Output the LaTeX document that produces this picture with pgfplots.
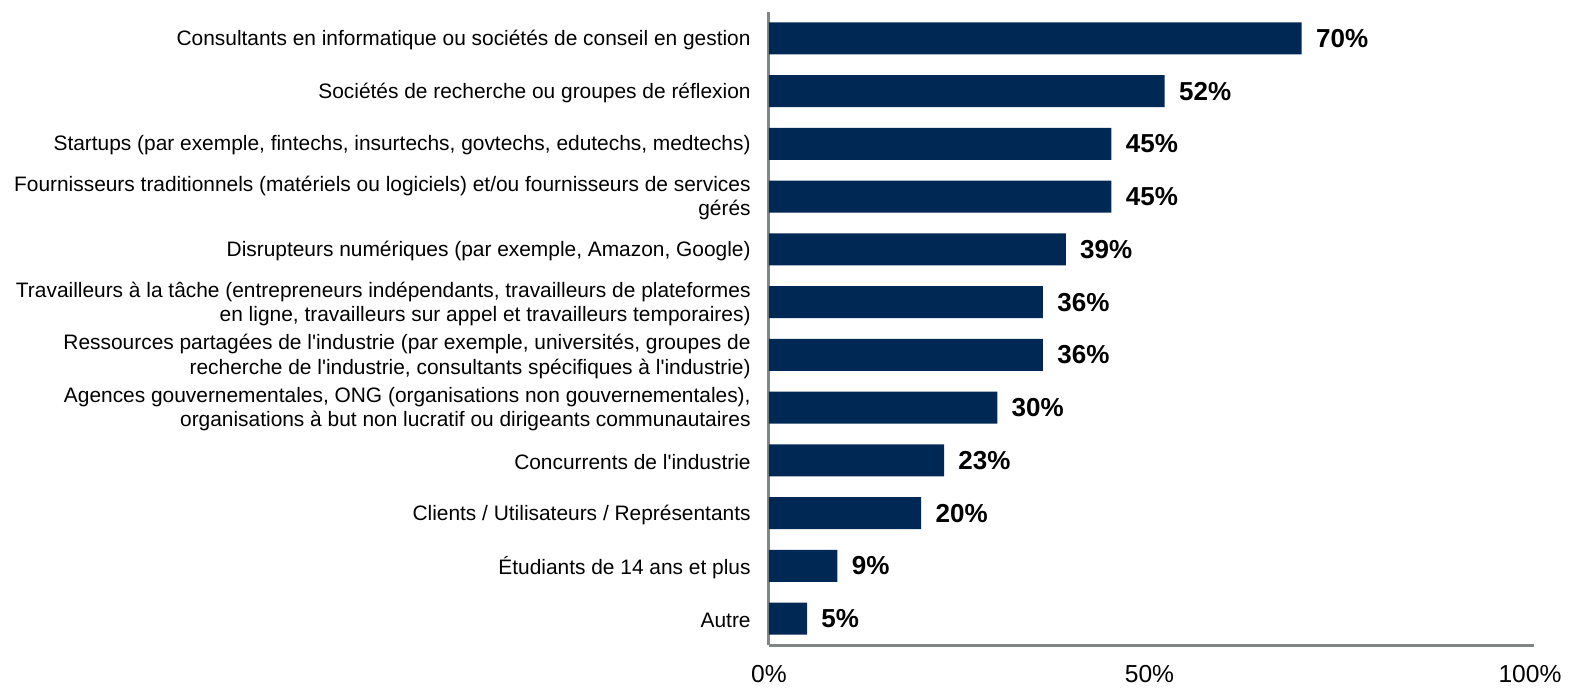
\documentclass[border=0pt]{standalone}
\usepackage{pgfplots}
\pgfplotsset{compat=1.18}
\usepackage{fontspec}
\setmainfont{Liberation Sans}
\definecolor{barnavy}{RGB}{0,40,85}
\definecolor{axisgrey}{RGB}{127,134,132}
\begin{document}
\begin{tikzpicture}
\begin{axis}[
  scale only axis,
  width=380.5pt, height=316.5pt,
  xbar, bar width=16pt,
  xmin=0, xmax=100,
  ymin=-0.5, ymax=11.5,
  y dir=reverse,
  axis lines*=left,
  axis line style={draw=axisgrey, line width=1.5pt},
  x axis line style={shorten >=-2pt},
  major tick length=0pt,
  xtick={0,50,100},
  xticklabels={0\%,50\%,100\%},
  xticklabel style={font=\fontsize{12.3}{14}\selectfont, inner sep=0pt, yshift=-10pt},
  ytick={0,...,11},
  yticklabels={
    {Consultants en informatique ou sociétés de conseil en gestion},
    {Sociétés de recherche ou groupes de réflexion},
    {Startups (par exemple, fintechs, insurtechs, govtechs, edutechs, medtechs)},
    {Fournisseurs traditionnels (matériels ou logiciels) et/ou fournisseurs de services\\gérés},
    {Disrupteurs numériques (par exemple, Amazon, Google)},
    {Travailleurs à la tâche (entrepreneurs indépendants, travailleurs de plateformes\\en ligne, travailleurs sur appel et travailleurs temporaires)},
    {Ressources partagées de l\textquotesingle industrie (par exemple, universités, groupes de\\recherche de l\textquotesingle industrie, consultants spécifiques à l\textquotesingle industrie)},
    {Agences gouvernementales, ONG (organisations non gouvernementales),\\organisations à but non lucratif ou dirigeants communautaires},
    {Concurrents de l\textquotesingle industrie},
    {Clients / Utilisateurs / Représentants},
    {Étudiants de 14 ans et plus},
    {Autre}
  },
  yticklabel style={font=\fontsize{10.45}{12.2}\selectfont, align=right, inner sep=0pt, xshift=-9pt, yshift=-0.8pt},
  /pgf/number format/assume math mode=true,
  nodes near coords={\pgfmathprintnumber{\pgfplotspointmeta}\%},
  point meta=x,
  nodes near coords style={anchor=west, font=\bfseries\fontsize{13}{15}\selectfont, inner sep=0pt, xshift=7pt, text=black},
  clip=false,
]
\addplot[fill=barnavy, draw=none] coordinates {
  (70,0) (52,1) (45,2) (45,3) (39,4) (36,5) (36,6) (30,7) (23,8) (20,9) (9,10) (5,11)
};
\end{axis}
\pgfresetboundingbox
\path[use as bounding box] ([shift={(-384.5pt,-22pt)}]current axis.south west) rectangle ([shift={(21pt,6pt)}]current axis.north east);
\end{tikzpicture}
\end{document}
